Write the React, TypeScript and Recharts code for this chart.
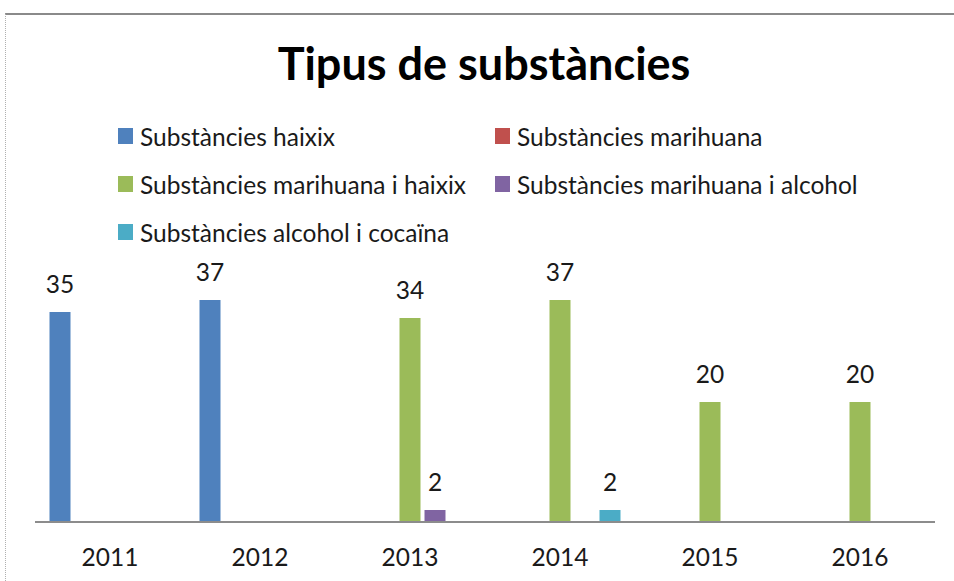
import React from 'react'
import { BarChart, Bar, XAxis, YAxis, Legend, LabelList } from 'recharts'

const years = ['2011', '2012', '2013', '2014', '2015', '2016']

const seriesNames = [
  'Substàncies haixix',
  'Substàncies marihuana',
  'Substàncies marihuana i haixix',
  'Substàncies marihuana i alcohol',
  'Substàncies alcohol i cocaïna',
]

const seriesColors = ['#4F81BD', '#C0504D', '#9BBB59', '#8064A2', '#4BACC6']

// null = no bar / no label for that year
const haixix = [35, 37, null, null, null, null]
const marihuana = [null, null, null, null, null, null]
const marihuanaHaixix = [null, null, 34, 37, 20, 20]
const marihuanaAlcohol = [null, null, 2, null, null, null]
const alcoholCocaina = [null, null, null, 2, null, null]

const seriesValues = [haixix, marihuana, marihuanaHaixix, marihuanaAlcohol, alcoholCocaina]
const keys = ['s0', 's1', 's2', 's3', 's4']

const data = years.map((year, i) => {
  const row: Record<string, string | number | null> = { year }
  keys.forEach((k, s) => {
    row[k] = seriesValues[s][i]
  })
  return row
})

const FONT = 'Lato, "Open Sans", sans-serif'
const TEXT = '#1a1a1a'
const FS = 24.5

function ValueLabel(props: any) {
  const { x, y, width, value } = props
  if (value === null || value === undefined) return null
  return (
    <text x={x + width / 2} y={y - 19} textAnchor="middle" fontFamily={FONT} fontSize={FS} fill={TEXT}>
      {value}
    </text>
  )
}

function LegendBox() {
  return (
    <div style={{ display: 'grid', gridTemplateColumns: '377px 377px', rowGap: 0 }}>
      {seriesNames.map((name, i) => (
        <div key={name} style={{ display: 'flex', alignItems: 'center', height: 48, fontFamily: FONT, fontSize: FS, color: TEXT, whiteSpace: 'nowrap' }}>
          <span style={{ width: 15, height: 16, background: seriesColors[i], marginRight: 7, flexShrink: 0 }} />
          {name}
        </div>
      ))}
    </div>
  )
}

export default function App() {
  return (
    <div style={{ position: 'absolute', top: 0, left: 0, width: 954, height: 581, background: '#fff', overflow: 'hidden' }}>
      {/* chart frame */}
      <div style={{ position: 'absolute', top: 13, left: 5, width: 960, bottom: 0, borderTop: '2px solid #8a8a8a', borderLeft: '1px dotted #b0b0b0' }} />
      <svg width={954} height={100} style={{ position: 'absolute', top: 0, left: 0 }}>
        <text x={484} y={80} textAnchor="middle" fontFamily={FONT} fontWeight={700} fontSize={45} fill="#000">
          Tipus de substàncies
        </text>
      </svg>
      <div style={{ position: 'absolute', top: 0, left: 0 }}>
        <BarChart
          width={954}
          height={581}
          data={data}
          margin={{ top: 282, right: 19, left: 35, bottom: 19 }}
          barCategoryGap={14.5}
          barGap={4}
        >
          <XAxis
            dataKey="year"
            height={40}
            tickLine={false}
            tickMargin={21}
            axisLine={{ stroke: '#8c8c8c', strokeWidth: 2 }}
            tick={{ fontFamily: FONT, fontSize: FS, fill: TEXT }}
          />
          <YAxis hide domain={[0, 40]} />
          <Legend
            verticalAlign="middle"
            align="center"
            layout="horizontal"
            wrapperStyle={{ top: 112, left: 118, width: 760, height: 144 }}
            content={() => <LegendBox />}
          />
          {keys.map((k, s) => (
            <Bar key={k} dataKey={k} name={seriesNames[s]} fill={seriesColors[s]} isAnimationActive={false}>
              <LabelList dataKey={k} content={ValueLabel} />
            </Bar>
          ))}
        </BarChart>
      </div>
    </div>
  )
}
